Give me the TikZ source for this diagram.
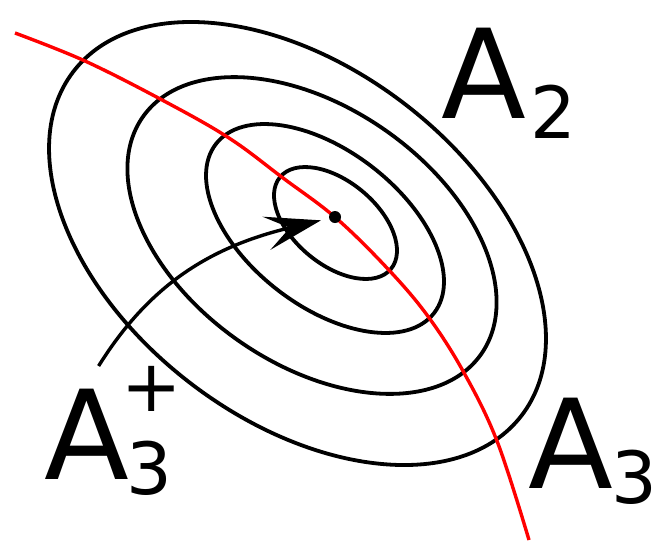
\documentclass[tikz,border=0pt]{standalone}
\usepackage{fontspec}
\setmainfont{DejaVu Sans}
\usetikzlibrary{arrows.meta}
\tikzset{
  level/.style={draw, line width=1.9pt},
  fold/.style={draw=red, line width=1.7pt},
  lab/.style={inner sep=0pt, anchor=base west, font=\fontsize{62}{62}\selectfont},
  crit/.style={circle, fill, inner sep=0pt, minimum size=6pt},
}
\newcommand{\idx}[1]{{\fontsize{36}{36}\selectfont #1}}

\begin{document}
\begin{tikzpicture}[x=0.5pt, y=-0.5pt, >={Stealth[length=28pt, width=17pt, inset=12pt]}]
  \useasboundingbox (0,0) rectangle (663,541);
  % level sets
  \draw[level, shift={(297.5,243.5)}, rotate=-37.5] (0,0) ellipse [x radius=282.5, y radius=176];
  \draw[level, shift={(312,235.5)}, rotate=-35] (0,0) ellipse [x radius=206.6, y radius=128.3];
  \draw[level, shift={(325,228.5)}, rotate=-37.8] (0,0) ellipse [x radius=138, y radius=77.6];
  \draw[level, shift={(335.5,223)}, rotate=-39.6] (0,0) ellipse [x radius=72, y radius=41.6];
  % red curve
  \draw[fold] plot[smooth, tension=0.6] coordinates {(15,33) (85,61) (164,101) (229,138) (283,178)
    (336,218) (387,268) (427,315) (463,371) (497,441) (529,540)};
  \node[crit] (crit) at (335,217) {};
  \coordinate (start) at (98.6,366);
  \draw[->, line width=1.7pt, shorten >=4pt] (start) .. controls (151.6,281) and (215,245.5) .. (crit);
  \node[lab] (a2) at (441,118.5) {A\kern2pt\raisebox{-10pt}{\idx{2}}};
  \node[lab] (a3) at (528,488) {A\kern-1pt\raisebox{-7.5pt}{\idx{3}}};
  \node[lab] (a3p) at (44,479) {A\rlap{\kern-1.5pt\raisebox{-7.5pt}{\idx{3}}}\kern-4pt\raisebox{34pt}{\idx{+}}};
\end{tikzpicture}
\end{document}
